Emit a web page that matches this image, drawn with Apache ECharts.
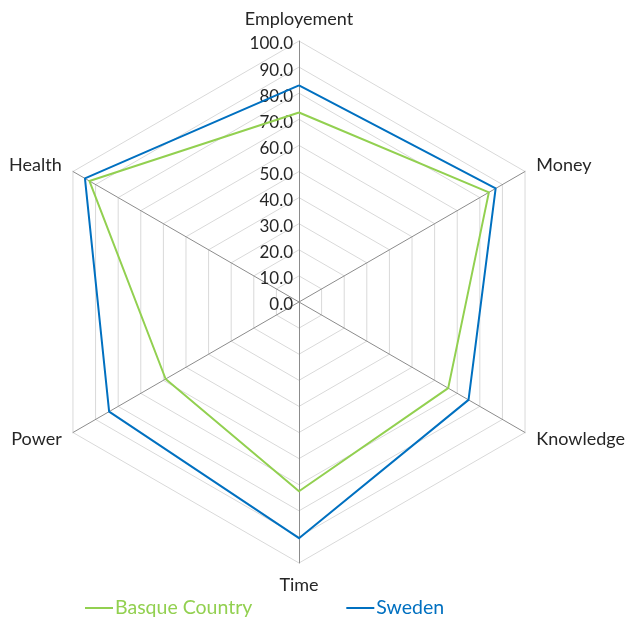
<!DOCTYPE html>
<html>
<head>
<meta charset="utf-8">
<script src="https://cdn.jsdelivr.net/npm/echarts@6/dist/echarts.min.js"></script>
<style>
  html, body { margin: 0; padding: 0; background: #fff; }
  #chart { width: 625px; height: 620px; }
</style>
</head>
<body>
<div id="chart"></div>
<script>
// 数据（顺时针顺序）
const indicators = ['Employement', 'Money', 'Knowledge', 'Time', 'Power', 'Health'];
const basque = [72.6, 84, 66, 72.5, 59, 92.7];
const sweden = [83, 87, 75, 90.5, 84, 94.7];
const seriesNames = ['Basque Country', 'Sweden'];
const colors = ['#92D050', '#0070C0'];

// ECharts 雷达图为逆时针，这里把顺序翻过来
const order = [0, 5, 4, 3, 2, 1];
const pick = arr => order.map(i => arr[i]);

const font = 'Lato, "Open Sans", sans-serif';
const chart = echarts.init(document.getElementById('chart'));

const center = [299, 302];
const radius = 261;

const option = {
	animation: false,
	color: colors,
	textStyle: { fontFamily: font },
	legend: {
		top: 593,
		left: 80,
		itemGap: 94,
		itemWidth: 28,
		itemHeight: 2,
		icon: 'rect',
		textStyle: { fontSize: 19.5, fontFamily: font, padding: [0, 0, 0, -3] },
		data: seriesNames.map((n, i) => ({ name: n, textStyle: { color: colors[i] } }))
	},
	radar: {
		center: center,
		radius: radius,
		shape: 'polygon',
		splitNumber: 10,
		startAngle: 90,
		indicator: pick(indicators).map(n => ({ name: n, max: 100, min: 0 })),
		axisName: { color: '#262626', fontSize: 18, fontFamily: font },
		nameGap: 13,
		splitArea: { show: false },
		splitLine: { lineStyle: { color: '#d9d9d9', width: 1 } },
		axisLine: { lineStyle: { color: '#8c8c8c', width: 1 } }
	},
	// 数值刻度
	polar: { center: center, radius: radius },
	angleAxis: { show: false, startAngle: 90, min: 0, max: 360 },
	radiusAxis: {
		min: 0, max: 100, interval: 10,
		axisLine: { show: false },
		axisTick: { show: false },
		splitLine: { show: false },
		axisLabel: {
			margin: 6,
			formatter: v => '{a|' + v.toFixed(1) + '}',
			rich: {
				a: { color: '#262626', fontSize: 17, fontFamily: font, padding: [6, 0, 0, 0] }
			}
		}
	},
	series: [
		{
			type: 'radar',
			symbol: 'none',
			data: [
				{ name: seriesNames[0], value: pick(basque), lineStyle: { color: colors[0], width: 2 }, itemStyle: { color: colors[0] } },
				{ name: seriesNames[1], value: pick(sweden), lineStyle: { color: colors[1], width: 2 }, itemStyle: { color: colors[1] } }
			]
		}
	]
};

chart.setOption(option);
window.onresize = chart.resize;
</script>
</body>
</html>
